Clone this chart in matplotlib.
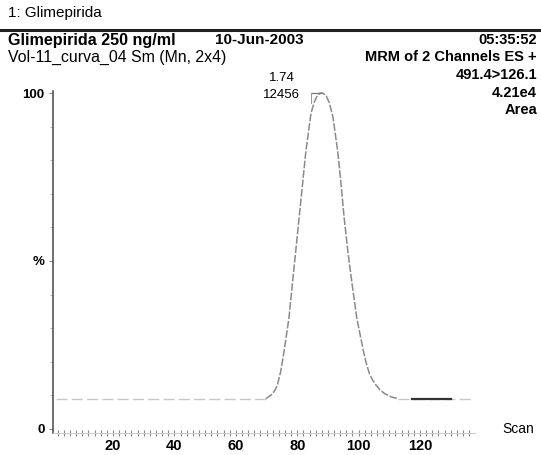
import matplotlib
matplotlib.use("Agg")
import matplotlib.pyplot as plt
import numpy as np

plt.rcParams['font.family'] = ['Liberation Sans', 'DejaVu Sans']

# ---- data ----
peak_scans = [69.8, 71.6, 72.6, 73.5, 74.6, 75.7, 76.5, 77.3, 78.4, 79.5, 80.6,
              81.7, 82.8, 83.9, 84.5, 85.5, 86.5, 87.5, 88.5, 89.5, 90.5,
              91.7, 93.2, 94.3, 95.3, 96.5, 97.9, 99.4, 101.6, 102.5, 103.5,
              104.6, 105.7, 107.0, 108.5, 110.5, 112.9]
peak_values = [9.0, 10.2, 11.3, 13.0, 17.0, 23.0, 28.0, 33.0, 43.0, 52.8, 62.7,
               72.6, 82.5, 90.0, 94.0, 97.2, 99.2, 100.0, 99.9, 99.0, 97.0,
               92.5, 82.5, 72.6, 62.7, 52.8, 42.9, 33.0, 23.0, 19.5, 16.5,
               14.5, 13.0, 11.6, 10.5, 9.6, 9.0]
base_left_scans = [1.5, 20, 40, 60, 69.8]
base_left_values = [9.0, 9.0, 9.0, 9.0, 9.0]
base_right_scans = [112.9, 120, 130, 137]
base_right_values = [9.0, 9.0, 9.0, 9.0]
dark_scans = [117.5, 130]
dark_values = [9.0, 9.0]

x_ticks = [20, 40, 60, 80, 100, 120]
y_ticks = [0, 50, 100]
y_tick_labels = ['0', '%', '100']
peak_time = '1.74'
peak_height = '12456'

W, H = 541, 455
fig = plt.figure(figsize=(W / 100, H / 100), dpi=100)

def fx(px):
    return px / W

def fy(py):
    return 1 - py / H

# header
fig.text(fx(8), fy(13), '1: Glimepirida', fontsize=11, va='center', ha='left')
fig.add_artist(plt.Line2D([0, 1], [fy(30), fy(30)], color='#222222', lw=2.2))
fig.text(fx(8), fy(40), 'Glimepirida 250 ng/ml', fontsize=11.6, fontweight='bold', va='center')
fig.text(fx(215), fy(40), '10-Jun-2003', fontsize=11, fontweight='bold', va='center')
fig.text(fx(537), fy(40), '05:35:52', fontsize=10.5, fontweight='bold', va='center', ha='right')
fig.text(fx(8), fy(57), 'Vol-11_curva_04 Sm (Mn, 2x4)', fontsize=11.4, va='center')
fig.text(fx(537), fy(57), 'MRM of 2 Channels ES +', fontsize=10.5, fontweight='bold', va='center', ha='right')
fig.text(fx(537), fy(75), '491.4>126.1', fontsize=10.5, fontweight='bold', va='center', ha='right')
fig.text(fx(537), fy(93), '4.21e4', fontsize=10.5, fontweight='bold', va='center', ha='right')
fig.text(fx(537), fy(110), 'Area', fontsize=10.5, fontweight='bold', va='center', ha='right')

ax = fig.add_axes([fx(53), fy(433), fx(475) - fx(53), fy(91) - fy(433)])
ax.set_xlim(0.46, 137.9)
ax.set_ylim(-1.2, 100.6)

trace_kw = dict(color='#8a8a8a', lw=1.1, linestyle=(0, (5, 1.2)))
ax.plot(base_left_scans, base_left_values, color='#c8c8c8', lw=1.0, linestyle=(0, (8, 3)))
ax.plot(peak_scans, peak_values, **trace_kw)
ax.plot(base_right_scans, base_right_values, color='#c8c8c8', lw=1.0, linestyle=(0, (8, 3)))
ax.plot(dark_scans, dark_values, color='#333333', lw=1.6)

# peak top marker and labels
i_max = int(np.argmax(peak_values))
px_, py_ = peak_scans[i_max], peak_values[i_max]
ax.plot([px_ - 3.0, px_ + 0.5], [py_, py_], color='#777777', lw=0.9)
ax.plot([px_ - 3.0, px_ - 3.0], [py_, py_ - 3], color='#999999', lw=0.7)
ax.text(px_ - 12.5, py_ + 4.5, peak_time, fontsize=9.5, ha='center', va='center')
ax.text(px_ - 12.5, py_ - 0.5, peak_height, fontsize=9.5, ha='center', va='center')

for s in ['top', 'right']:
    ax.spines[s].set_visible(False)
ax.spines['left'].set_color('#555555')
ax.spines['left'].set_linewidth(1.2)
ax.spines['bottom'].set_color('#cccccc')
ax.spines['bottom'].set_linewidth(0.8)

ax.set_xticks(x_ticks)
ax.set_xticklabels([str(t) for t in x_ticks], fontweight='bold', fontsize=10.5)
ax.set_xticks(np.arange(2, 138, 2), minor=True)
ax.tick_params(axis='x', which='both', direction='inout', length=4, width=0.8,
               color='#888888', pad=2)
ax.set_yticks(y_ticks)
ax.set_yticklabels(y_tick_labels, fontweight='bold', fontsize=9.5)
ax.tick_params(axis='y', which='major', direction='out', length=3, width=0.8,
               color='#888888', pad=3)
ax.set_yticks(np.arange(10, 100, 10), minor=True)
ax.tick_params(axis='y', which='minor', direction='out', length=2, width=0.6, color='#aaaaaa')

fig.text(fx(502), fy(429), 'Scan', fontsize=10, va='center', ha='left')

fig.savefig('out.png', dpi=100)
